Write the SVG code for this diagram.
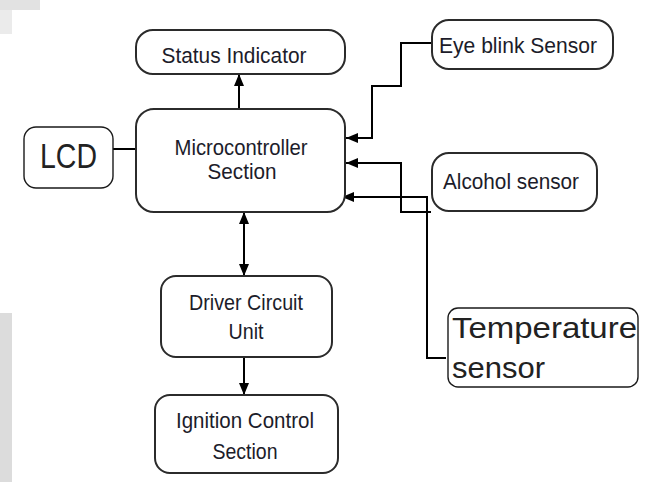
<svg xmlns="http://www.w3.org/2000/svg" width="650" height="482" viewBox="0 0 650 482">
  <defs>
    <marker id="arrow" viewBox="0 0 12 10" refX="12" refY="5" markerWidth="12" markerHeight="10" markerUnits="userSpaceOnUse" orient="auto-start-reverse">
      <path d="M0,0 L12,5 L0,10 Z" fill="#000"/>
    </marker>
    <style>
      .box { fill: #fff; stroke: #2b2b2b; stroke-width: 2; }
      .thin { fill: #fff; stroke: #1a1a1a; stroke-width: 1.4; }
      .lbl { font-family: "Liberation Sans", Arial, sans-serif; font-size: 22px; fill: #1c1c2a; text-anchor: middle; }
      .big { font-family: "Liberation Sans", Arial, sans-serif; fill: #222; }
      .wire { fill: none; stroke: #000; stroke-width: 2; }
    </style>
  </defs>

  <rect width="650" height="482" fill="#fff"/>
  <!-- grey margin fragments along the left edge -->
  <rect x="0" y="0" width="40" height="10" fill="#e2e2e2"/>
  <rect x="0" y="10" width="12" height="24" fill="#ebebeb"/>
  <rect x="0" y="313" width="12" height="169" fill="#dcdcdc"/>

  <g id="connectors">
    <!-- micro -> status -->
    <path class="wire" d="M239,109 V74" marker-end="url(#arrow)"/>
    <!-- LCD link -->
    <path class="wire" d="M113,149 H136"/>
    <!-- micro <-> driver -->
    <path class="wire" d="M244,212 V276" marker-start="url(#arrow)" marker-end="url(#arrow)"/>
    <!-- driver -> ignition -->
    <path class="wire" d="M244,357 V395" marker-end="url(#arrow)"/>
    <!-- eye blink sensor -> micro -->
    <path class="wire" d="M432,43 H401 V86 H372 V138 H346" marker-end="url(#arrow)"/>
    <!-- alcohol sensor -> micro -->
    <path class="wire" d="M431,212 H401 V163 H346" marker-end="url(#arrow)"/>
    <!-- temperature sensor -> micro -->
    <path class="wire" d="M446,358 H427 V197 H342" marker-end="url(#arrow)"/>
  </g>

  <g id="status">
    <rect class="box" x="136" y="30" width="209" height="44" rx="17"/>
    <text class="lbl" x="234" y="63" textLength="145" lengthAdjust="spacingAndGlyphs">Status Indicator</text>
  </g>

  <g id="micro">
    <rect class="box" x="136" y="109" width="209" height="103" rx="18"/>
    <text class="lbl" x="241" y="155" textLength="133" lengthAdjust="spacingAndGlyphs">Microcontroller</text>
    <text class="lbl" x="242" y="179" textLength="69" lengthAdjust="spacingAndGlyphs">Section</text>
  </g>

  <g id="lcd">
    <rect class="thin" x="24" y="127" width="89" height="61" rx="12"/>
    <text class="big" x="40" y="168" font-size="35" textLength="57" lengthAdjust="spacingAndGlyphs">LCD</text>
  </g>

  <g id="eye-blink">
    <rect class="box" x="432" y="20" width="181" height="49" rx="17"/>
    <text class="lbl" x="518" y="53" textLength="158" lengthAdjust="spacingAndGlyphs">Eye blink Sensor</text>
  </g>

  <g id="alcohol">
    <rect class="box" x="432" y="153" width="165" height="58" rx="17"/>
    <text class="lbl" x="511" y="189" textLength="136" lengthAdjust="spacingAndGlyphs">Alcohol sensor</text>
  </g>

  <g id="driver">
    <rect class="box" x="161" y="276" width="171" height="81" rx="15"/>
    <text class="lbl" x="246" y="310" textLength="114" lengthAdjust="spacingAndGlyphs">Driver Circuit</text>
    <text class="lbl" x="246" y="339" textLength="35" lengthAdjust="spacingAndGlyphs">Unit</text>
  </g>

  <g id="ignition">
    <rect class="box" x="155" y="395" width="183" height="78" rx="15"/>
    <text class="lbl" x="245" y="428" textLength="138" lengthAdjust="spacingAndGlyphs">Ignition Control</text>
    <text class="lbl" x="245" y="459" textLength="65" lengthAdjust="spacingAndGlyphs">Section</text>
  </g>

  <g id="temperature">
    <rect class="thin" x="448" y="308" width="190" height="79" rx="10"/>
    <text class="big" x="452" y="338" font-size="30" textLength="185" lengthAdjust="spacingAndGlyphs">Temperature</text>
    <text class="big" x="452" y="378" font-size="30" textLength="93" lengthAdjust="spacingAndGlyphs">sensor</text>
  </g>
</svg>
